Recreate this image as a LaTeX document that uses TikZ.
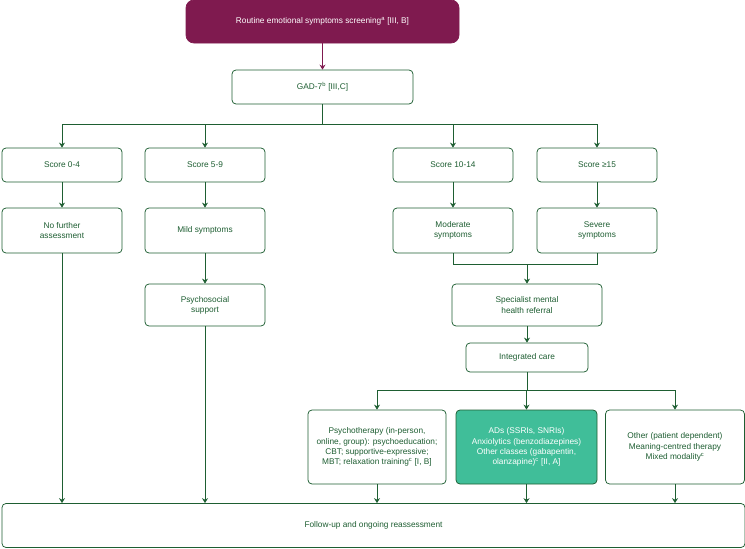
\documentclass[tikz,border=0pt]{standalone}
\usepackage{fontspec}
\setmainfont{Liberation Sans}
\usetikzlibrary{arrows.meta}
\definecolor{dkgreen}{RGB}{30,94,50}
\definecolor{plum}{RGB}{127,26,79}
\definecolor{teal}{RGB}{64,190,153}
\tikzset{every picture/.style={line width=0.75pt}}
\tikzset{
  box/.style={draw=dkgreen, rounded corners=4pt, fill=white, align=center, text=dkgreen, font=\fontsize{8.3}{10.2}\selectfont, inner sep=2pt},
  conn/.style={draw=dkgreen, -{Stealth[length=5pt,width=6pt]}},
  wire/.style={draw=dkgreen}
}
\begin{document}
\begin{tikzpicture}[x=1pt,y=1pt,yscale=-1,xscale=1]
    \useasboundingbox (0,0) rectangle (745,549);

    %Shape: Top box
    \node [box, fill=plum, draw=plum, text=white, minimum width=273pt, minimum height=43pt, rounded corners=8pt] (screen) at (322.5,21.5) {Routine emotional symptoms screening\textsuperscript{a} [III, B]};
    \node [box, minimum width=181pt, minimum height=34pt] (gad) at (322.5,87) {GAD-7\textsuperscript{b} [III,C]};
    \draw [draw=plum, -{Stealth[length=5pt,width=6pt]}] (screen) -- (gad);

    %Shape: Scores
    \node [box, minimum width=120pt, minimum height=34pt] (s1) at (62,165) {Score 0-4};
    \node [box, minimum width=120pt, minimum height=34pt] (s2) at (205,165) {Score 5-9};
    \node [box, minimum width=120pt, minimum height=34pt] (s3) at (453,165) {Score 10-14};
    \node [box, minimum width=120pt, minimum height=34pt] (s4) at (597,165) {Score ≥15};

    %Shape: Severity
    \node [box, minimum width=120pt, minimum height=45pt] (nofur) at (62,230.5) {No further\\assessment};
    \node [box, minimum width=120pt, minimum height=45pt] (mild) at (205,230.5) {Mild symptoms};
    \node [box, minimum width=120pt, minimum height=45pt] (moder) at (453,230.5) {Moderate\\symptoms};
    \node [box, minimum width=120pt, minimum height=45pt] (severe) at (597,230.5) {Severe\\symptoms};

    \node [box, minimum width=120pt, minimum height=42pt] (psysoc) at (205,305) {Psychosocial\\support};
    \node [box, minimum width=150pt, minimum height=42pt] (spec) at (527,305) {Specialist mental\\health referral};
    \node [box, minimum width=122pt, minimum height=29pt] (integ) at (527,357.5) {Integrated care};

    %Shape: Treatments
    \node [box, minimum width=138pt, minimum height=74pt] (psyth) at (377,447) {Psychotherapy (in-person,\\online, group): psychoeducation;\\CBT; supportive-expressive;\\MBT; relaxation training\textsuperscript{c} [I, B]};
    \node [box, fill=teal, text=white, minimum width=141pt, minimum height=74pt] (ads) at (526.5,447) {ADs (SSRIs, SNRIs)\\Anxiolytics (benzodiazepines)\\Other classes (gabapentin,\\olanzapine)\textsuperscript{c} [II, A]};
    \node [box, minimum width=139pt, minimum height=74pt] (other) at (675,447) {Other (patient dependent)\\Meaning-centred therapy\\Mixed modality\textsuperscript{c}};

    \node [box, minimum width=743pt, minimum height=44pt] (follow) at (373.5,525.5) {Follow-up and ongoing reassessment};

    %Straight Lines: branches
    \coordinate (b1) at (322.5,124);
    \draw [wire] (gad) -- (b1);
    \draw [wire] (s1.north |- b1) -- (s4.north |- b1);
    \foreach \n in {s1,s2,s3,s4} \draw [conn] (\n.north |- b1) -- (\n);
    \draw [conn] (s1) -- (nofur);
    \draw [conn] (s2) -- (mild);
    \draw [conn] (s3) -- (moder);
    \draw [conn] (s4) -- (severe);
    \draw [conn] (mild) -- (psysoc);

    %Straight Lines: join
    \coordinate (j) at (527,264);
    \draw [wire] (moder.south) -- (moder.south |- j) -- (severe.south |- j) -- (severe.south);
    \draw [conn] (j) -- (spec);
    \draw [conn] (spec) -- (integ);

    \coordinate (b2) at (527,390);
    \draw [wire] (integ) -- (b2);
    \draw [wire] (psyth.north |- b2) -- (other.north |- b2);
    \foreach \n in {psyth,ads,other} \draw [conn] (\n.north |- b2) -- (\n);

    %Straight Lines: to follow-up
    \foreach \n in {nofur,psysoc,psyth,ads,other} \draw [conn] (\n) -- (\n.south |- follow.north);
\end{tikzpicture}
\end{document}
